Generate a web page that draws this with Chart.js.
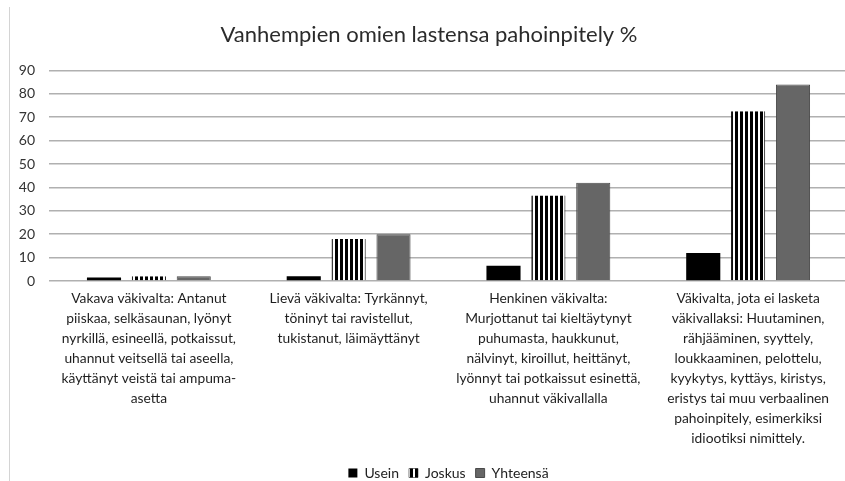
<!DOCTYPE html>
<html>
<head>
<meta charset="utf-8">
<script src="https://cdn.jsdelivr.net/npm/chart.js@4"></script>
<style>
  html, body { margin: 0; padding: 0; background: #fff; overflow: hidden; }
  body { width: 845px; height: 481px; position: relative; }
  #frame { position: absolute; left: 9px; top: 7px; width: 1px; height: 474px; background: #d4d4d4; }
  #wrap { position: absolute; left: 10px; top: 0; width: 855px; height: 490px; }
</style>
</head>
<body>
<div id="frame"></div>
<div id="wrap"><canvas id="chart" width="855" height="490"></canvas></div>
<script>
// Categories (multi-line, as in the original)
const categories = [
    ['Vakava väkivalta: Antanut', 'piiskaa, selkäsaunan, lyönyt', 'nyrkillä, esineellä, potkaissut,', 'uhannut veitsellä tai aseella,', 'käyttänyt veistä tai ampuma-', 'asetta'],
    ['Lievä väkivalta: Tyrkännyt,', 'töninyt tai ravistellut,', 'tukistanut, läimäyttänyt'],
    ['Henkinen väkivalta:', 'Murjottanut tai kieltäytynyt', 'puhumasta, haukkunut,', 'nälvinyt, kiroillut, heittänyt,', 'lyönnyt tai potkaissut esinettä,', 'uhannut väkivallalla'],
    ['Väkivalta, jota ei lasketa', 'väkivallaksi: Huutaminen,', 'rähjääminen, syyttely,', 'loukkaaminen, pelottelu,', 'kyykytys, kyttäys, kiristys,', 'eristys tai muu verbaalinen', 'pahoinpitely, esimerkiksi', 'idiootiksi nimittely.']
];

// Series values (%)
const usein = [1.5, 2, 6.5, 12];
const joskus = [2, 18, 36.5, 72.5];
const yhteensa = [2, 20, 42, 84];

// Vertical stripe fill for "Joskus"
function stripePattern() {
    const c = document.createElement('canvas');
    c.width = 5;
    c.height = 4;
    const g = c.getContext('2d');
    g.fillStyle = '#ffffff';
    g.fillRect(0, 0, 5, 4);
    g.fillStyle = '#000000';
    g.fillRect(0, 0, 3, 4);
    return g.createPattern(c, 'repeat');
}

const ctx = document.getElementById('chart').getContext('2d');
const stripes = stripePattern();

new Chart(ctx, {
    type: 'bar',
    data: {
        labels: categories,
        datasets: [
            {
                label: 'Usein',
                data: usein,
                backgroundColor: '#000000',
                borderWidth: 0
            },
            {
                label: 'Joskus',
                data: joskus,
                backgroundColor: stripes,
                borderColor: '#000000',
                borderWidth: {left: 1, right: 1, top: 0, bottom: 0}
            },
            {
                label: 'Yhteensä',
                data: yhteensa,
                backgroundColor: '#666666',
                borderColor: '#4a4a4a',
                borderWidth: 1
            }
        ]
    },
    options: {
        responsive: false,
        animation: false,
        devicePixelRatio: 1,
        categoryPercentage: 0.674,
        barPercentage: 0.76,
        layout: {
            padding: {left: 0, right: 17, top: 0, bottom: 0}
        },
        plugins: {
            title: {
                display: true,
                text: 'Vanhempien omien lastensa pahoinpitely %',
                color: '#2b2b2b',
                font: {family: 'Lato', size: 22, weight: 'normal'},
                padding: {top: 22, bottom: 22}
            },
            legend: {
                position: 'bottom',
                fullSize: false,
                labels: {
                    color: '#222222',
                    font: {family: 'Lato', size: 14},
                    boxWidth: 9,
                    boxHeight: 9,
                    padding: 10
                }
            },
            tooltip: {enabled: false}
        },
        scales: {
            x: {
                grid: {display: false, drawTicks: false},
                border: {display: false},
                ticks: {
                    color: '#1e1e1e',
                    font: {family: 'Lato', size: 13.8, lineHeight: '20px'},
                    maxRotation: 0,
                    autoSkip: false,
                    padding: 8
                },
                afterFit: function(scale) {
                    scale.height = 175;
                }
            },
            y: {
                min: 0,
                max: 90,
                grid: {color: '#b0b0b0', lineWidth: 1.5, drawTicks: false},
                border: {display: false},
                ticks: {
                    stepSize: 10,
                    color: '#333333',
                    font: {family: 'Lato', size: 14},
                    padding: 14
                },
                afterFit: function(scale) {
                    scale.width = 39;
                }
            }
        }
    }
});
</script>
</body>
</html>
